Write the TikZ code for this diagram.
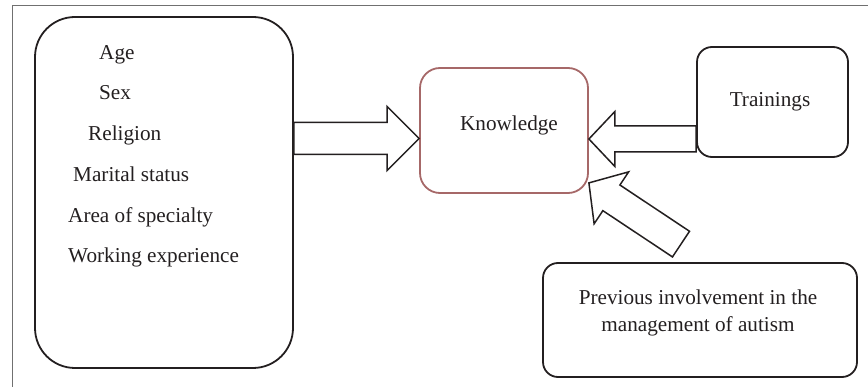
\documentclass[tikz,border=0pt]{standalone}
\usepackage{fontspec}
\setmainfont{Liberation Serif}
\usetikzlibrary{calc}

\definecolor{framegray}{RGB}{112,112,112}
\definecolor{knowred}{RGB}{166,104,104}
\definecolor{inkblack}{RGB}{35,31,32}

\begin{document}
\begin{tikzpicture}[
  x=1pt, y=-1pt,
  font=\fontsize{21.2}{25}\selectfont,
  text=inkblack,
  box/.style={
    draw=inkblack,
    line width=1.8pt,
    rounded corners=15pt,
    inner sep=0pt
  },
  item/.style={
    anchor=base west,
    inner sep=0pt
  },
  caption/.style={
    anchor=base,
    inner sep=0pt
  },
  blockarrow/.style n args={3}{
    draw=inkblack,
    fill=white,
    line width=1.5pt,
    line join=miter,
    to path={
      let \p1=($(\tikztotarget)!#3!(\tikztostart)$) in
      ($(\tikztostart)!#1!90:(\tikztotarget)$)
      -- ($(\p1)!#1!90:(\tikztotarget)$)
      -- ($(\p1)!#2!90:(\tikztotarget)$)
      -- (\tikztotarget)
      -- ($(\p1)!#2!-90:(\tikztotarget)$)
      -- ($(\p1)!#1!-90:(\tikztotarget)$)
      -- ($(\tikztostart)!#1!-90:(\tikztotarget)$)
      -- cycle
    }
  }
]

\useasboundingbox (0,0) rectangle (868,387);

% outer frame
\draw[framegray, line width=1pt] (12,387) -- (12,6) -- (868,6);

% boxes
\node[box, rounded corners=40pt, minimum width=258pt, minimum height=351pt] (factors) at (164,192.5) {};
\node[box, draw=knowred, rounded corners=20pt, minimum width=168pt, minimum height=125pt] (know) at (504,130.5) {};
\node[box, minimum width=151pt, minimum height=110pt] (train) at (772.5,102) {};
\node[box, minimum width=314pt, minimum height=114pt] (prev) at (700,320) {};

% texts
\node[item] (age) at (99,60) {Age};
\node[item] (sex) at (99,100) {Sex};
\node[item] (religion) at (88,141) {Religion};
\node[item] (marital) at (73,182) {Marital status};
\node[item] (area) at (68,222.5) {Area of specialty};
\node[item] (work) at (68,263) {Working experience};
\node[caption] (knowtext) at (509,131) {Knowledge};
\node[caption] (traintext) at (770,107) {Trainings};
\node[caption] (prevtext) at (698,305) {Previous involvement in the};
\node[caption] (prevtext2) at (698,332) {management of autism};

% block arrows
\draw[blockarrow={16pt}{32pt}{32pt}] ($(factors.east |- know.west)+(0,8)$) to ($(know.west)+(0,8)$);
\draw[blockarrow={13pt}{27.5pt}{26pt}] ($(train.west |- know.east)+(0,8.5)$) to ($(know.east)+(0,8.5)$);
\draw[blockarrow={15.4pt}{31.2pt}{27pt}] ($(prev.north)+(-19,-18)$) to ($(know.south east)+(0,-11)$);

\end{tikzpicture}
\end{document}
